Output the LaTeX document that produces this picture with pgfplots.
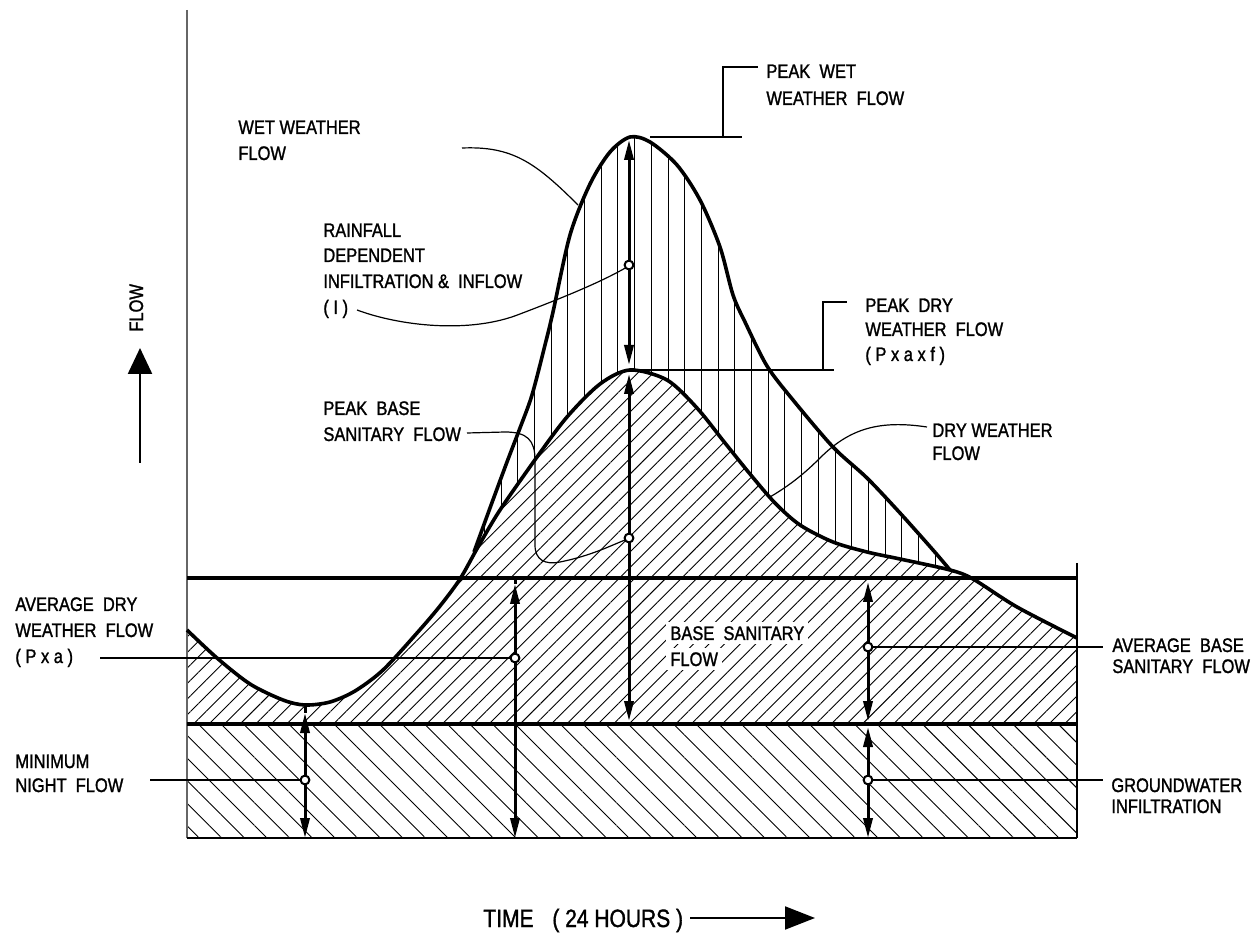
\documentclass[border=0pt]{standalone}
\usepackage{pgfplots}
\pgfplotsset{compat=1.18}
\usepgfplotslibrary{fillbetween}
\usetikzlibrary{patterns.meta,arrows.meta}
\usepackage{fontspec}
\setmainfont{Liberation Sans}[FakeStretch=0.84, FakeBold=1.3]

\begin{document}
\begin{tikzpicture}[
  lbl/.style={anchor=base west, inner sep=0pt, font=\fontsize{9.8}{11}\selectfont},
  tri/.style={-{Triangle[length=10pt,width=4.6pt]}},
  ld/.style={line width=0.6pt},
]
\begin{axis}[
  scale only axis, width=629.5pt, height=466.5pt,
  xmin=0, xmax=1259, ymin=0, ymax=933, y dir=reverse,
  hide axis, clip=false,
]
\coordinate (BL) at (axis cs:0,933);
\coordinate (TR) at (axis cs:1259,0);

% invisible paths
\addplot[name path=dry, draw=none, smooth] coordinates {
(187,630) (217,658) (250,684) (283,700) (305,705) (330,702) (355,691) (383,670)
(417,633) (440,606) (460,579) (478,547) (500,510) (537,457) (567,417) (600,384)
(630,370) (667,380) (697,408) (725,443) (750,474) (775,503) (800,525) (833,542)
(867,552) (900,559) (950,570) (973,579) (1017,607) (1077,638)};
\addplot[name path=wetfull, draw=none, smooth] coordinates {
(187,630) (217,658) (250,684) (283,700) (305,705) (330,702) (355,691) (383,670)
(417,633) (440,606) (460,579)
(474,552) (490,508) (507,462) (520,428) (532,395) (545,345) (553,312) (570,235)
(590,184) (610,152) (630,137) (650,142) (677,165) (700,200) (720,247) (733,295)
(745,322) (767,366) (793,400) (833,447) (867,478) (900,513) (933,550) (950,570)
(973,579) (1017,607) (1077,638)};
\path[name path=base] (axis cs:187,724) -- (axis cs:1077,724);

% hatching
\addplot[draw=none, pattern={Lines[angle=-45,distance=8pt,line width=0.45pt]}]
  coordinates {(187,724) (1077,724) (1077,838) (187,838)} -- cycle;
\addplot[draw=none, pattern={Lines[angle=45,distance=5.5pt,line width=0.45pt]}]
  fill between[of=dry and base];
\addplot[draw=none, pattern={Lines[angle=90,distance=8.35pt,line width=0.45pt]}]
  fill between[of=wetfull and dry];

% frame lines
\draw[line width=1pt, black!60] (187,10) -- (187,838);
\draw[line width=0.8pt] (187,838) -- (1077,838);
\draw[line width=0.7pt] (1077,563) -- (1077,838);
\draw[line width=2pt] (187,578) -- (1077,578);
\draw[line width=2pt] (187,724) -- (1077,724);

% curves
\addplot[line width=1.8pt, smooth] coordinates {
(187,630) (217,658) (250,684) (283,700) (305,705) (330,702) (355,691) (383,670)
(417,633) (440,606) (460,579) (478,547) (500,510) (537,457) (567,417) (600,384)
(630,370) (667,380) (697,408) (725,443) (750,474) (775,503) (800,525) (833,542)
(867,552) (900,559) (950,570) (973,579) (1017,607) (1077,638)};
\addplot[line width=1.8pt, smooth] coordinates {
(474,552) (490,508) (507,462) (520,428) (532,395) (545,345) (553,312) (570,235)
(590,184) (610,152) (630,137) (650,142) (677,165) (700,200) (720,247) (733,295)
(745,322) (767,366) (793,400) (833,447) (867,478) (900,513) (933,550) (950,570)};

% leaders
\draw[ld] (100,658) -- (515,658);
\draw[ld] (150,780) -- (305,780);
\draw[ld] (868,647) -- (1103,647);
\draw[ld] (868,780) -- (1103,780);
\draw[ld] (650,137) -- (742,137);
\draw[ld] (723,137) -- (723,67) -- (758,67);
\draw[ld] (630,370) -- (834,370);
\draw[ld] (823,370) -- (823,302) -- (847,302);
\draw[ld] (462,148) .. controls (512,146) and (535,162) .. (578,205);
\draw[ld] (357,310) .. controls (400,326) and (470,334) .. (520,314) .. controls (570,295) and (605,280) .. (627,267);
\draw[ld] (467,433) -- (505,432) .. controls (527,432) and (535,440) .. (535,460) -- (535,545)
  .. controls (535,560) and (545,565) .. (560,562) .. controls (590,556) and (610,546) .. (625,540);
\draw[ld] (927,427) .. controls (880,420) and (850,428) .. (820,458) .. controls (800,478) and (785,488) .. (770,497);

% dimension arrows
\begin{scope}[line width=1.5pt]
\draw (305,705) -- (305,713);
\draw[tri] (305,780) -- (305,713);
\draw[tri] (305,780) -- (305,838);
\draw (515,578) -- (515,584);
\draw[tri] (515,658) -- (515,584);
\draw[tri] (515,658) -- (515,838);
\draw[tri] (629,265) -- (629,140);
\draw[tri] (629,265) -- (629,365);
\draw[tri] (629,538) -- (629,374);
\draw[tri] (629,538) -- (629,721);
\draw[tri] (868,647) -- (868,582);
\draw[tri] (868,647) -- (868,721);
\draw[tri] (868,780) -- (868,727);
\draw[tri] (868,780) -- (868,838);
\end{scope}

% circles
\begin{scope}[line width=1pt]
\draw[fill=white] (axis cs:305,780) circle[radius=2.2pt];
\draw[fill=white] (axis cs:515,658) circle[radius=2.2pt];
\draw[fill=white] (axis cs:629,265) circle[radius=2.2pt];
\draw[fill=white] (axis cs:629,538) circle[radius=2.2pt];
\draw[fill=white] (axis cs:868,647) circle[radius=2.2pt];
\draw[fill=white] (axis cs:868,780) circle[radius=2.2pt];
\end{scope}

% axis arrows
\draw[line width=1.2pt, -{Triangle[length=13pt,width=12pt]}] (140,463) -- (140,348);
\draw[line width=1pt, -{Triangle[length=15pt,width=11.5pt]}] (690,918) -- (815,918);

% texts
\node[lbl, rotate=90] at (143,332) {FLOW};
\node[lbl, font=\fontsize{12.5}{14}\selectfont] at (483,927) {TIME};
\node[lbl, font=\fontsize{12.5}{14}\selectfont] at (552,927) {( 24 HOURS )};

\node[lbl] at (766,78) {PEAK\ \ WET};
\node[lbl] at (766,105) {WEATHER\ \ FLOW};
\node[lbl] at (238,134) {WET WEATHER};
\node[lbl] at (238,160) {FLOW};
\node[lbl] at (323,237) {RAINFALL};
\node[lbl] at (323,262) {DEPENDENT};
\node[lbl] at (323,288) {INFILTRATION \&\ \ INFLOW};
\node[lbl] at (323,314) {( I )};
\node[lbl] at (865,312) {PEAK\ \ DRY};
\node[lbl] at (865,336) {WEATHER\ \ FLOW};
\node[lbl] at (865,361) {( P x a x f )};
\node[lbl] at (323,415) {PEAK\ \ BASE};
\node[lbl] at (323,441) {SANITARY\ \ FLOW};
\node[lbl] at (932,437) {DRY WEATHER};
\node[lbl] at (932,460) {FLOW};
\node[lbl, fill=white, inner sep=2pt] at (666,640) {BASE\ \ SANITARY};
\node[lbl, fill=white, inner sep=2pt] at (666,666) {FLOW};
\node[lbl] at (15,611) {AVERAGE\ \ DRY};
\node[lbl] at (15,637) {WEATHER\ \ FLOW};
\node[lbl] at (15,663) {( P x a )};
\node[lbl] at (15,768) {MINIMUM};
\node[lbl] at (15,792) {NIGHT\ \ FLOW};
\node[lbl] at (1112,652) {AVERAGE\ \ BASE};
\node[lbl] at (1112,673) {SANITARY\ \ FLOW};
\node[lbl] at (1111,792) {GROUNDWATER};
\node[lbl] at (1111,813) {INFILTRATION};
\end{axis}
\pgfresetboundingbox
\path (BL) rectangle (TR);
\end{tikzpicture}
\end{document}
